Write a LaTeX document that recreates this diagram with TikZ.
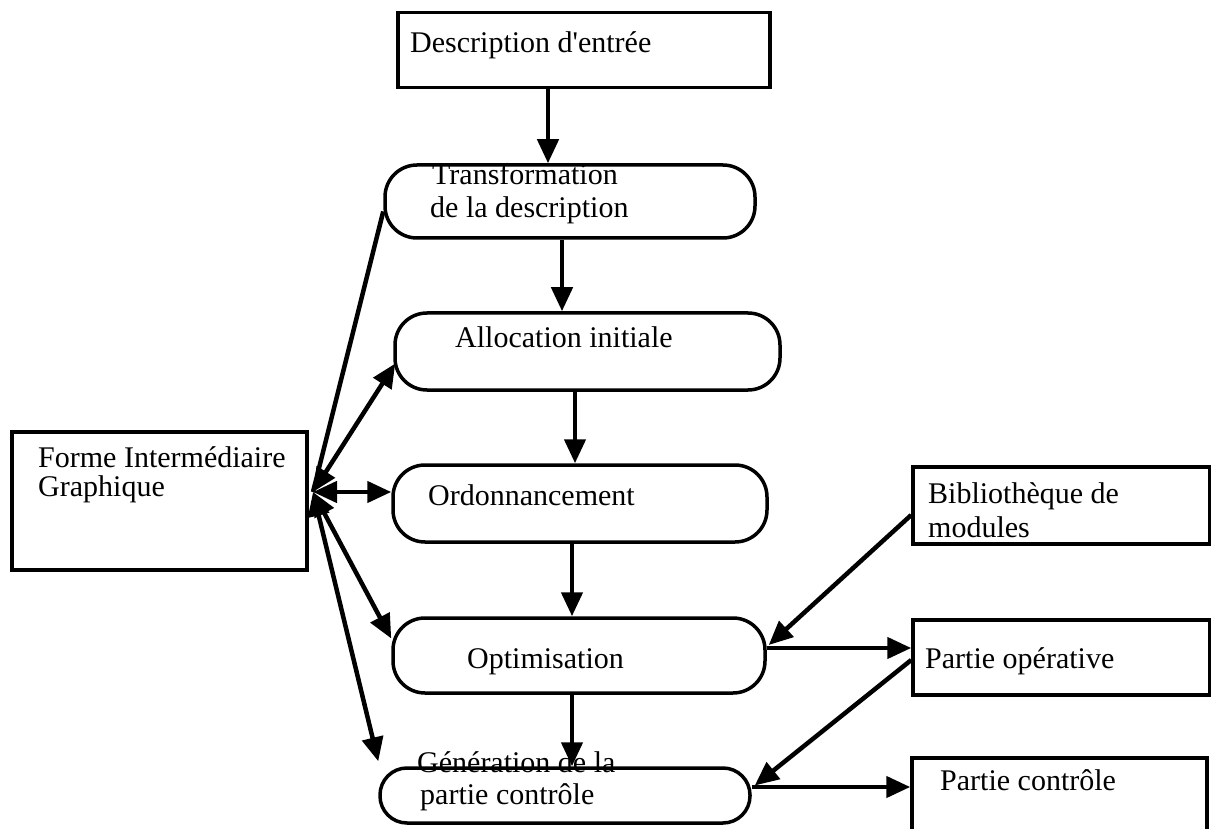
\documentclass[tikz,border=0pt]{standalone}
\usepackage{fontspec}
\setmainfont{Liberation Serif}
\usetikzlibrary{arrows.meta}
\tikzset{
  sqbox/.style={draw, line width=3.5pt, inner sep=0pt},
  rbox/.style={draw, line width=3.5pt, inner sep=0pt, rounded corners=32pt},
  txt/.style={anchor=base west, inner sep=0pt, font=\fontsize{30}{33}\selectfont},
  conn/.style={line width=4.5pt},
  arr/.style={line width=4.5pt, -{Triangle[length=24pt,width=21pt]}},
  arrb/.style={line width=4.5pt, {Triangle[length=24pt,width=21pt]}-{Triangle[length=24pt,width=21pt]}},
}
\begin{document}
\begin{tikzpicture}[x=1pt,y=-1pt]
\useasboundingbox (0,0) rectangle (1211,829);
\clip (0,0) rectangle (1211,829);
% boxes
\node[sqbox, minimum width=372pt, minimum height=75pt] (desc) at (584,50) {};
\node[rbox, minimum width=370pt, minimum height=73pt] (trans) at (570,201.5) {};
\node[rbox, minimum width=385pt, minimum height=77pt] (alloc) at (587.5,351.5) {};
\node[rbox, minimum width=374pt, minimum height=77pt] (ord) at (580,503.5) {};
\node[rbox, minimum width=372pt, minimum height=75pt] (opt) at (579,655.5) {};
\node[rbox, rounded corners=27pt, minimum width=370pt, minimum height=55pt] (gen) at (565,795.5) {};
\node[sqbox, minimum width=295pt, minimum height=138pt] (forme) at (159.5,501) {};
\node[sqbox, minimum width=297pt, minimum height=77pt] (biblio) at (1061.5,505.5) {};
\node[sqbox, minimum width=297pt, minimum height=75pt] (partop) at (1061.5,657.5) {};
\node[sqbox, minimum width=295pt, minimum height=80pt] (partctl) at (1059.5,798) {};
% texts
\node[txt] (descT) at (410,53) {Description d\textquotesingle entrée};
\node[txt] (transT1) at (432,185) {Transformation};
\node[txt] (transT2) at (430,218) {de la description};
\node[txt] (allocT) at (455,348) {Allocation initiale};
\node[txt] (ordT) at (428,505) {Ordonnancement};
\node[txt] (optT) at (467,668) {Optimisation};
\node[txt] (genT1) at (417,772) {Génération de la};
\node[txt] (genT2) at (420,804) {partie contrôle};
\node[txt] (formeT1) at (38,467) {Forme Intermédiaire};
\node[txt] (formeT2) at (38,496) {Graphique};
\node[txt] (biblioT1) at (928,503) {Bibliothèque de};
\node[txt] (biblioT2) at (928,537) {modules};
\node[txt] (partopT) at (925,668) {Partie opérative};
\node[txt] (partctlT) at (940,790) {Partie contrôle};
% hub
\coordinate (hub) at (313,492);
% vertical flow
\draw[arr] ([xshift=-36pt]desc.south) -- ([xshift=-36pt]desc.south |- trans.north);
\draw[arr] ([xshift=-8pt]trans.south) -- ([xshift=-8pt]trans.south |- alloc.north);
\draw[arr] ([xshift=-12.5pt]alloc.south) -- ([xshift=-12.5pt]alloc.south |- ord.north);
\draw[arr] ([xshift=-8pt]ord.south) -- ([xshift=-8pt]ord.south |- opt.north);
\draw[arr] ([xshift=-7pt]opt.south) -- ([xshift=-7pt]opt.south |- gen.north);
% left hub connections
\draw[conn] ([yshift=-10pt]trans.west) -- (hub);
\draw[arrb] (hub) -- ([yshift=-12pt,xshift=2pt]alloc.west);
\draw[arrb] (hub) -- (hub -| ord.west);
\draw[arrb] (hub) -- ([yshift=17pt]opt.west);
\draw[arrb] (hub) -- ([yshift=5pt]gen.north west);
% right side
\draw[arr] ([yshift=-9.5pt]biblio.west) -- ([yshift=10.5pt,xshift=2pt]opt.east);
\draw[arr] ([yshift=7.5pt]opt.east) -- ([yshift=7.5pt]opt.east -| partop.west);
\draw[arr] ([yshift=-2.5pt]partop.west) -- ([yshift=10pt,xshift=3pt]gen.east);
\draw[arr] ([yshift=8.5pt]gen.east) -- ([yshift=8.5pt]gen.east -| partctl.west);
\end{tikzpicture}
\end{document}
